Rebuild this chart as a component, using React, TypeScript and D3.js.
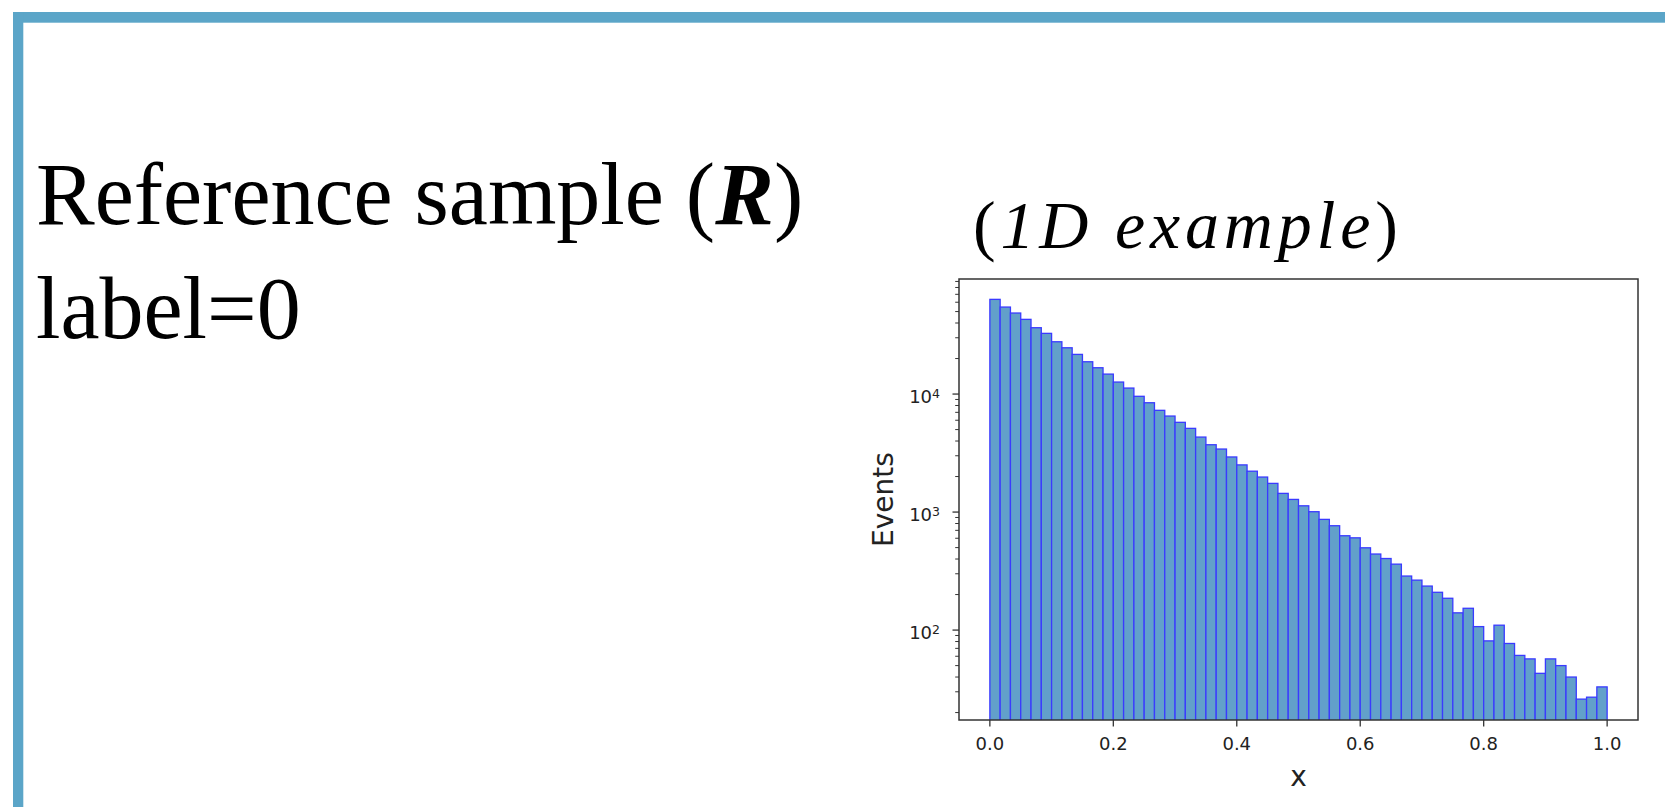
import React from "react";
import * as d3 from "d3";

// Histogram of x for the reference sample: 60 equal bins on [0, 1], log-scaled counts
const binEdgesStart = 0;
const binEdgesEnd = 1;
const counts: number[] = [
  63450, 54600, 48600, 42950, 36480, 32680, 27740, 24670, 21680, 18780,
  16710, 14760, 12640, 11240, 9570, 8440, 7280, 6510, 5760, 5120,
  4320, 3720, 3420, 2930, 2510, 2220, 1980, 1750, 1440, 1280,
  1130, 1007, 867, 766, 630, 605, 498, 441, 404, 362,
  287, 265, 236, 209, 186, 140, 153, 107, 81, 110,
  77, 61, 57, 43, 57, 50, 40, 26, 27, 33,
];
const xTickValues: number[] = [0.0, 0.2, 0.4, 0.6, 0.8, 1.0];
const yTickExponents: number[] = [2, 3, 4];

const titleLine1 = "Reference sample (";
const titleVar = "R";
const titleLine2 = "label=0";
const exampleLabel = "1D example";
const xLabel = "x";
const yLabel = "Events";

const W = 1665;
const H = 807;
const frame = { left: 959, right: 1638, top: 279, bottom: 720 };

export default function App() {
  const nBins = counts.length;
  const binW = (binEdgesEnd - binEdgesStart) / nBins;

  const x = d3.scaleLinear().domain([-0.05, 1.05]).range([frame.left, frame.right]);
  const y = d3.scaleLog().domain([17.3, 94400]).range([frame.bottom, frame.top]);

  const [yLo, yHi] = y.domain();
  const minorTicks: number[] = [];
  for (let k = Math.floor(Math.log10(yLo)); k <= Math.ceil(Math.log10(yHi)); k++) {
    for (let m = 2; m <= 9; m++) {
      const v = m * Math.pow(10, k);
      if (v >= yLo && v <= yHi) minorTicks.push(v);
    }
  }

  const axisColor = "#333";
  const textColor = "#222";
  const tickFont = "DejaVu Sans, sans-serif";
  const serif = "Liberation Serif, Times New Roman, serif";
  const border = "#5ba5c8";

  return (
    <svg
      width={W}
      height={H}
      viewBox={`0 0 ${W} ${H}`}
      style={{ position: "fixed", left: 0, top: 0, background: "#fff" }}
    >
      <rect x={0} y={0} width={W} height={H} fill="#fff" />
      {/* slide frame */}
      <rect x={13} y={12} width={W - 13} height={10.7} fill={border} />
      <rect x={13} y={12} width={10.3} height={H - 12} fill={border} />

      {/* slide text */}
      <text x={36} y={224} fontFamily={serif} fontSize={88} fill="#000">
        {titleLine1}
        <tspan fontStyle="italic" fontWeight="bold">{titleVar}</tspan>)
      </text>
      <text x={36} y={338} fontFamily={serif} fontSize={88} fill="#000">
        {titleLine2}
      </text>
      <text
        x={973}
        y={248}
        fontFamily={serif}
        fontSize={68}
        fill="#000"
        textLength={425}
        lengthAdjust="spacing"
      >
        (<tspan fontStyle="italic">{exampleLabel}</tspan>)
      </text>

      <defs>
        <clipPath id="plotArea">
          <rect
            x={frame.left}
            y={frame.top}
            width={frame.right - frame.left}
            height={frame.bottom - frame.top}
          />
        </clipPath>
      </defs>

      {/* histogram bars */}
      <g clipPath="url(#plotArea)">
        {counts.map((c, i) => {
          const x0 = x(binEdgesStart + i * binW);
          const x1 = x(binEdgesStart + (i + 1) * binW);
          const top = y(c);
          return (
            <rect
              key={i}
              x={x0}
              y={top}
              width={x1 - x0}
              height={frame.bottom + 5 - top}
              fill="#62a0ca"
              stroke="#3a3aff"
              strokeWidth={1.3}
            />
          );
        })}
      </g>

      {/* spines */}
      <rect
        x={frame.left}
        y={frame.top}
        width={frame.right - frame.left}
        height={frame.bottom - frame.top}
        fill="none"
        stroke={axisColor}
        strokeWidth={1.5}
      />

      {/* x axis */}
      {xTickValues.map((t) => (
        <g key={t}>
          <line
            x1={x(t)}
            x2={x(t)}
            y1={frame.bottom}
            y2={frame.bottom + 6.5}
            stroke={axisColor}
            strokeWidth={1.3}
          />
          <text
            x={x(t)}
            y={750}
            textAnchor="middle"
            fontFamily={tickFont}
            fontSize={18}
            fill={textColor}
          >
            {d3.format(".1f")(t)}
          </text>
        </g>
      ))}
      <text
        x={(frame.left + frame.right) / 2}
        y={786}
        textAnchor="middle"
        fontFamily={tickFont}
        fontSize={28}
        fill={textColor}
      >
        {xLabel}
      </text>

      {/* y axis (log) */}
      {minorTicks.map((v) => (
        <line
          key={v}
          x1={frame.left - 3.8}
          x2={frame.left}
          y1={y(v)}
          y2={y(v)}
          stroke={axisColor}
          strokeWidth={1}
        />
      ))}
      {yTickExponents.map((e) => {
        const yy = y(Math.pow(10, e));
        return (
          <g key={e}>
            <line
              x1={frame.left - 6.5}
              x2={frame.left}
              y1={yy}
              y2={yy}
              stroke={axisColor}
              strokeWidth={1.3}
            />
            <text
              x={940}
              y={yy + 9}
              textAnchor="end"
              fontFamily={tickFont}
              fontSize={18}
              fill={textColor}
            >
              10
              <tspan fontSize={12.5} dy={-5}>
                {e}
              </tspan>
            </text>
          </g>
        );
      })}
      <text
        transform={`translate(893, ${(frame.top + frame.bottom) / 2}) rotate(-90)`}
        textAnchor="middle"
        fontFamily={tickFont}
        fontSize={28}
        fill={textColor}
      >
        {yLabel}
      </text>
    </svg>
  );
}
